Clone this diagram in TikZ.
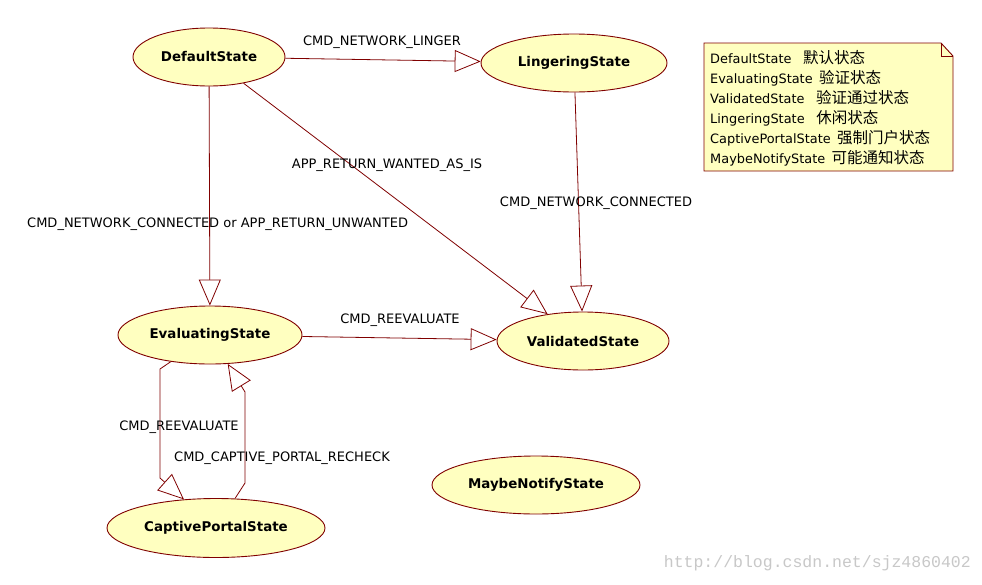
\documentclass[tikz,border=0pt]{standalone}
\usepackage{fontspec}
\setmainfont{DejaVu Sans}
\newfontfamily\cjkfont{Noto Sans CJK SC}
\newfontfamily\wmfont{Liberation Mono}
\usetikzlibrary{shapes.geometric,arrows.meta}
\definecolor{edgered}{RGB}{128,0,0}
\definecolor{statefill}{RGB}{255,255,192}
\definecolor{wmgray}{RGB}{200,200,200}
\tikzset{
  statenode/.style={ellipse, draw=edgered, fill=statefill, line width=0.9pt, inner sep=0pt,
    font=\fontsize{13.4}{15}\selectfont\bfseries},
  trans/.style={draw=edgered, line width=0.8pt,
    -{Triangle[open, length=26pt, width=22pt, fill=white]}},
  edgelabel/.style={font=\fontsize{13}{15}\selectfont, inner sep=0pt},
  notetext/.style={font=\fontsize{12.9}{15}\selectfont, inner sep=0pt, anchor=west},
}
\newcommand{\zh}[1]{{\cjkfont\fontsize{15.5}{18}\selectfont #1}}
\begin{document}
\begin{tikzpicture}[x=1pt, y=-1pt]
\useasboundingbox (0,0) rectangle (982,584);
\fill[white] (0,0) rectangle (982,584);

% states
\node[statenode, minimum width=152pt, minimum height=58pt] (d) at (209,57) {DefaultState};
\node[statenode, minimum width=186pt, minimum height=58pt] (l) at (574,63) {LingeringState};
\node[statenode, minimum width=184pt, minimum height=58pt] (e) at (210,335) {EvaluatingState};
\node[statenode, minimum width=172pt, minimum height=58pt] (v) at (583,341) {ValidatedState};
\node[statenode, minimum width=208pt, minimum height=58pt] (m) at (536,485) {MaybeNotifyState};
\node[statenode, minimum width=218pt, minimum height=59pt] (c) at (216,528) {CaptivePortalState};

% bend points
\coordinate (k1) at (160,369);
\coordinate (k2) at (160,478);
\coordinate (k3) at (245,483);
\coordinate (k4) at (245,392);

% transitions
\draw[trans] (d) -- (l);
\draw[trans] (d) -- (e);
\draw[trans] (d) -- (v);
\draw[trans] (l) -- (v);
\draw[trans] (e) -- (v);
\draw[trans] (e) -- (k1) -- (k2) -- (c);
\draw[trans] (c) -- (k3) -- (k4) -- (e);

% labels
\node[edgelabel] (t1) at (382,42) {CMD\_NETWORK\_LINGER};
\node[edgelabel, anchor=west] (t2) at (27,224) {CMD\_NETWORK\_CONNECTED or APP\_RETURN\_UNWANTED};
\node[edgelabel] (t3) at (387,165) {APP\_RETURN\_WANTED\_AS\_IS};
\node[edgelabel] (t4) at (596,203) {CMD\_NETWORK\_CONNECTED};
\node[edgelabel] (t5) at (400,320) {CMD\_REEVALUATE};
\node[edgelabel] (t6) at (179,427) {CMD\_REEVALUATE};
\node[edgelabel] (t7) at (282,458) {CMD\_CAPTIVE\_PORTAL\_RECHECK};

% note
\draw[edgered, fill=statefill, line width=0.9pt] (704,43) -- (941,43) -- (953,56) -- (953,171) -- (704,171) -- cycle;
\draw[edgered, line width=0.9pt] (941,43) -- (941,56) -- (953,56);
\node[notetext] (n1) at (710,58) {DefaultState\hspace{0.9em}\zh{默认状态}};
\node[notetext] (n2) at (710,78) {EvaluatingState\hspace{0.5em}\zh{验证状态}};
\node[notetext] (n3) at (710,98) {ValidatedState\hspace{0.9em}\zh{验证通过状态}};
\node[notetext] (n4) at (710,118) {LingeringState\hspace{0.9em}\zh{休闲状态}};
\node[notetext] (n5) at (710,138) {CaptivePortalState\hspace{0.5em}\zh{强制门户状态}};
\node[notetext] (n6) at (710,158) {MaybeNotifyState\hspace{0.5em}\zh{可能通知状态}};

% watermark
\node[font=\wmfont\fontsize{16.5}{18}\selectfont, text=wmgray, anchor=east, inner sep=0pt] (wm) at (971,563) {http://blog.csdn.net/sjz4860402};
\end{tikzpicture}
\end{document}
